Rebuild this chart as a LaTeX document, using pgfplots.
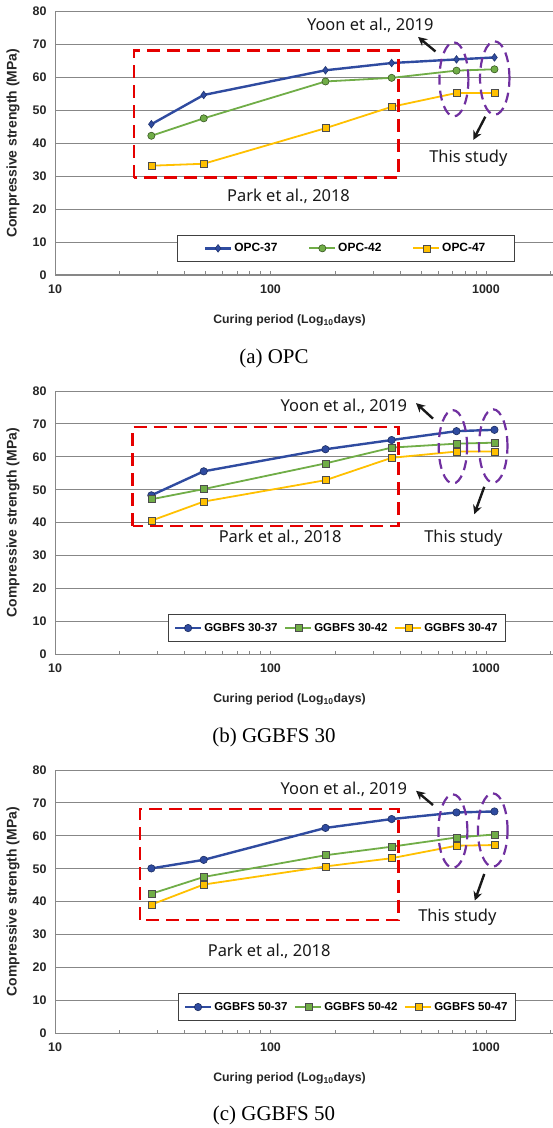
\documentclass[border=0pt]{standalone}
\usepackage{pgfplots}
\pgfplotsset{compat=1.18}
\usepackage{fontspec}
\setmainfont{Liberation Serif}
\newfontfamily\cf{Noto Sans}
\newfontfamily\cfb{Liberation Sans}
\usetikzlibrary{arrows.meta}
\definecolor{cblue}{RGB}{47,75,160}
\definecolor{cgreen}{RGB}{112,173,71}
\definecolor{cyel}{RGB}{255,192,0}
\definecolor{cpurp}{RGB}{112,48,160}
\definecolor{gridc}{RGB}{135,135,135}

\pgfplotsset{
 every axis/.append style={
  scale only axis, width=498bp, height=263.3bp,
  xmin=10, xmax=2047, ymin=0, ymax=80,
  axis x line*=bottom, axis y line*=left,
  axis line style={draw=gridc, line width=1bp, -},
  xtick={10,100,1000}, xticklabels={10,100,1000},
  minor xtick={20,30,40,50,60,70,80,90,200,300,400,500,600,700,800,900,2000},
  ytick={0,10,...,80}, yticklabels={0,10,20,30,40,50,60,70,80},
  ymajorgrids, major grid style={draw=gridc, line width=0.9bp},
  ytick style={draw=none},
  xtick style={draw=gridc, line width=0.8bp},
  tick align=inside, major tick length=3.5bp, minor tick length=3.5bp,
  ticklabel style={font=\cfb\bfseries\fontsize{12.5}{14}\selectfont, text=black!85},
  xticklabel style={yshift=-6bp},
  yticklabel style={xshift=-5bp},
  xlabel style={font=\cfb\bfseries\fontsize{12.3}{14}\selectfont, text=black!85, at={(axis description cs:0.471,-0.171)}, anchor=center},
  ylabel style={font=\cfb\bfseries\fontsize{14}{16}\selectfont, text=black!85, at={(axis description cs:-0.084,0.5)}, anchor=center},
  clip=false,
  legend columns=3,
  legend cell align=left,
  legend style={draw=black!75, line width=0.7bp, fill=white,
    anchor=south west, inner ysep=6.5bp},
 },
 legend image code/.code={\draw[mark repeat=2,mark phase=2,#1] plot coordinates {(0bp,0bp) (13bp,0bp) (26bp,0bp)};},
 s37d/.style={color=cblue, line width=2.4bp, mark=diamond*, mark size=3.8bp, mark options={solid, fill=cblue, draw=cblue!70!black, line width=0.6bp}},
 s37c/.style={color=cblue, line width=2.4bp, mark=*, mark size=3.7bp, mark options={solid, fill=cblue, draw=cblue!60!black, line width=0.6bp}},
 s42c/.style={color=cgreen, line width=1.8bp, mark=*, mark size=3.6bp, mark options={solid, fill=cgreen, draw=cgreen!50!black, line width=0.6bp}},
 s42s/.style={color=cgreen, line width=1.8bp, mark=square*, mark size=3.5bp, mark options={solid, fill=cgreen, draw=black!70, line width=0.6bp}},
 s47s/.style={color=cyel, line width=1.8bp, mark=square*, mark size=3.5bp, mark options={solid, fill=cyel, draw=black!70, line width=0.6bp}},
}
\tikzset{
 ann/.style={font=\cf\fontsize{16.5}{19}\selectfont, text=black!90},
 arr/.style={-{Stealth[length=9bp,width=9bp]}, line width=2.4bp, black!90},
 rbox/.style={draw=red!90!black, line width=2.5bp, dash pattern=on 13bp off 7bp},
 pell/.style={draw=cpurp, line width=2.2bp, dash pattern=on 10bp off 6bp},
}

\begin{document}
\begin{tikzpicture}
\useasboundingbox (0bp,0bp) rectangle (553bp,1128bp);

% ---------------- (a) OPC
\begin{semilogxaxis}[at={(55bp,853bp)}, anchor=south west,
  xlabel={Curing period (Log\textsubscript{10}days)},
  ylabel={Compressive strength (MPa)},
  legend style={at={(0.244,0.049)}, inner xsep=27bp, font=\cfb\bfseries\fontsize{12}{14}\selectfont,
    /tikz/every even column/.append style={column sep=29bp}}]
\addplot[s37d] coordinates {(28,45.8) (49,54.7) (180,62.2) (365,64.4) (730,65.5) (1095,66.1)};
\addlegendentry{OPC-37}
\addplot[s42c] coordinates {(28,42.3) (49,47.6) (180,58.8) (365,59.9) (730,62.1) (1095,62.5)};
\addlegendentry{OPC-42}
\addplot[s47s] coordinates {(28,33.2) (49,33.8) (180,44.6) (365,51.1) (730,55.3) (1095,55.3)};
\addlegendentry{OPC-47}
\draw[rbox] (rel axis cs:0.159,0.370) rectangle (rel axis cs:0.690,0.853);
\draw[pell] (rel axis cs:0.801,0.743) ellipse [x radius=14.5bp, y radius=37bp];
\draw[pell] (rel axis cs:0.883,0.748) ellipse [x radius=14.7bp, y radius=36.7bp];
\node[ann] at (rel axis cs:0.633,0.947) {Yoon et al., 2019};
\draw[arr] (rel axis cs:0.764,0.849) -- (rel axis cs:0.729,0.904);
\node[ann] at (rel axis cs:0.830,0.445) {This study};
\draw[arr] (rel axis cs:0.864,0.601) -- (rel axis cs:0.840,0.513);
\node[ann] at (rel axis cs:0.469,0.300) {Park et al., 2018};
\end{semilogxaxis}
\node[font=\fontsize{21}{24}\selectfont] at (274bp,770bp) {(a) OPC};

% ---------------- (b) GGBFS 30
\begin{semilogxaxis}[at={(55bp,473.7bp)}, anchor=south west,
  xlabel={Curing period (Log\textsubscript{10}days)},
  ylabel={Compressive strength (MPa)},
  legend style={at={(0.226,0.048)}, inner xsep=6bp, font=\cfb\bfseries\fontsize{11.5}{14}\selectfont,
    /tikz/every even column/.append style={column sep=5bp}}]
\addplot[s37c] coordinates {(28,48.3) (49,55.6) (180,62.3) (365,65.1) (730,67.8) (1095,68.2)};
\addlegendentry{GGBFS 30-37}
\addplot[s42s] coordinates {(28,47.1) (49,50.2) (180,58.0) (365,62.8) (730,64.0) (1095,64.3)};
\addlegendentry{GGBFS 30-42}
\addplot[s47s] coordinates {(28,40.6) (49,46.4) (180,52.9) (365,59.7) (730,61.6) (1095,61.6)};
\addlegendentry{GGBFS 30-47}
\draw[rbox] (rel axis cs:0.156,0.487) rectangle (rel axis cs:0.690,0.863);
\draw[pell] (rel axis cs:0.799,0.788) ellipse [x radius=14.2bp, y radius=36.7bp];
\draw[pell] (rel axis cs:0.880,0.791) ellipse [x radius=14.2bp, y radius=36.7bp];
\node[ann] at (rel axis cs:0.580,0.943) {Yoon et al., 2019};
\draw[arr] (rel axis cs:0.759,0.895) -- (rel axis cs:0.725,0.954);
\node[ann] at (rel axis cs:0.820,0.440) {This study};
\draw[arr] (rel axis cs:0.862,0.636) -- (rel axis cs:0.842,0.532);
\node[ann] at (rel axis cs:0.452,0.444) {Park et al., 2018};
\end{semilogxaxis}
\node[font=\fontsize{21}{24}\selectfont] at (274bp,390.3bp) {(b) GGBFS 30};

% ---------------- (c) GGBFS 50
\begin{semilogxaxis}[at={(55bp,94.7bp)}, anchor=south west,
  xlabel={Curing period (Log\textsubscript{10}days)},
  ylabel={Compressive strength (MPa)},
  legend style={at={(0.246,0.048)}, inner xsep=6bp, font=\cfb\bfseries\fontsize{11.5}{14}\selectfont,
    /tikz/every even column/.append style={column sep=5bp}}]
\addplot[s37c] coordinates {(28,50.1) (49,52.7) (180,62.4) (365,65.1) (730,67.1) (1095,67.4)};
\addlegendentry{GGBFS 50-37}
\addplot[s42s] coordinates {(28,42.4) (49,47.5) (180,54.1) (365,56.7) (730,59.5) (1095,60.4)};
\addlegendentry{GGBFS 50-42}
\addplot[s47s] coordinates {(28,39.1) (49,45.2) (180,50.7) (365,53.2) (730,57.0) (1095,57.2)};
\addlegendentry{GGBFS 50-47}
\draw[rbox] (rel axis cs:0.171,0.431) rectangle (rel axis cs:0.690,0.852);
\draw[pell] (rel axis cs:0.799,0.768) ellipse [x radius=14.5bp, y radius=36.7bp];
\draw[pell] (rel axis cs:0.879,0.772) ellipse [x radius=14.8bp, y radius=36.7bp];
\node[ann] at (rel axis cs:0.580,0.928) {Yoon et al., 2019};
\draw[arr] (rel axis cs:0.759,0.867) -- (rel axis cs:0.725,0.921);
\node[ann] at (rel axis cs:0.808,0.441) {This study};
\draw[arr] (rel axis cs:0.862,0.605) -- (rel axis cs:0.843,0.504);
\node[ann] at (rel axis cs:0.430,0.313) {Park et al., 2018};
\end{semilogxaxis}
\node[font=\fontsize{21}{24}\selectfont] at (274bp,13bp) {(c) GGBFS 50};
\end{tikzpicture}
\end{document}
